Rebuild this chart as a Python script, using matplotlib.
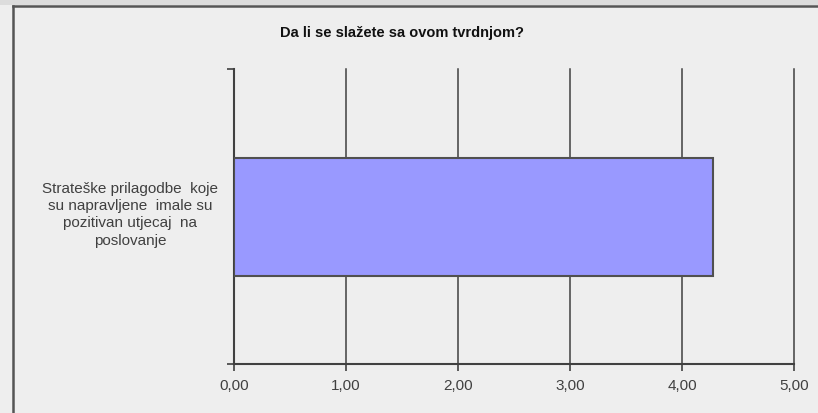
import matplotlib.pyplot as plt
from matplotlib.patches import Rectangle
from matplotlib.lines import Line2D
from matplotlib.ticker import FuncFormatter
from matplotlib.transforms import ScaledTranslation

title = "Da li se slažete sa ovom tvrdnjom?"
categories = ["Strateške prilagodbe  koje\nsu napravljene  imale su\npozitivan utjecaj  na\nposlovanje"]
values = [4.28]
x_ticks = [0, 1, 2, 3, 4, 5]

W, H = 818, 414
fig = plt.figure(figsize=(W / 100, H / 100), dpi=100, facecolor="#eeeeee")
plt.rcParams["font.family"] = ["Liberation Sans", "DejaVu Sans"]

# window-like frame: grey strip on top, dark border line
fig.patches.append(Rectangle((0, 1 - 6 / H), 1, 6 / H, transform=fig.transFigure,
                             facecolor="#dcdcdc", edgecolor="none", zorder=0))
fig.lines.append(Line2D([13 / W, 13 / W], [0, 1 - 7 / H], transform=fig.transFigure,
                        color="#555555", lw=1.8))
fig.lines.append(Line2D([13 / W, 1], [1 - 7 / H, 1 - 7 / H], transform=fig.transFigure,
                        color="#555555", lw=1.8))

ax = fig.add_axes([234 / W, (H - 365) / H, (794 - 234) / W, (365 - 70) / H])
ax.set_facecolor("#eeeeee")

ax.barh(range(len(values)), values, height=0.4, color="#9999ff",
        edgecolor="#505050", linewidth=1.5, zorder=3)

ax.set_xlim(0, 5)
ax.set_ylim(-0.5, len(values) - 0.5)
ax.set_xticks(x_ticks)
ax.xaxis.set_major_formatter(FuncFormatter(lambda v, p: f"{v:.2f}".replace(".", ",")))
for x in x_ticks[1:]:
    ax.axvline(x, color="#404040", lw=1.1, zorder=1, clip_on=False)

ax.set_yticks(range(len(values)))
ax.set_yticklabels(categories, ha="center", linespacing=1.3)
ax.tick_params(axis="y", which="major", length=0, pad=75, labelsize=11, labelcolor="#404040")
shift = ScaledTranslation(0, 6 / 100, fig.dpi_scale_trans)
for lbl in ax.get_yticklabels():
    lbl.set_transform(lbl.get_transform() + shift)
ax.set_yticks([-0.5, 0.5], minor=True)
ax.tick_params(axis="y", which="minor", length=5, width=1.2, color="#404040")
ax.tick_params(axis="x", length=5, width=1.2, color="#404040", labelsize=11,
               labelcolor="#404040", pad=5)

for side in ["top", "right"]:
    ax.spines[side].set_visible(False)
for side in ["left", "bottom"]:
    ax.spines[side].set_color("#404040")
    ax.spines[side].set_linewidth(1.5)

fig.text(402 / W, 1 - 33 / H, title, ha="center", va="center",
         fontsize=10.5, fontweight="bold", color="#111111")

fig.savefig("out.png", dpi=100, facecolor=fig.get_facecolor())
